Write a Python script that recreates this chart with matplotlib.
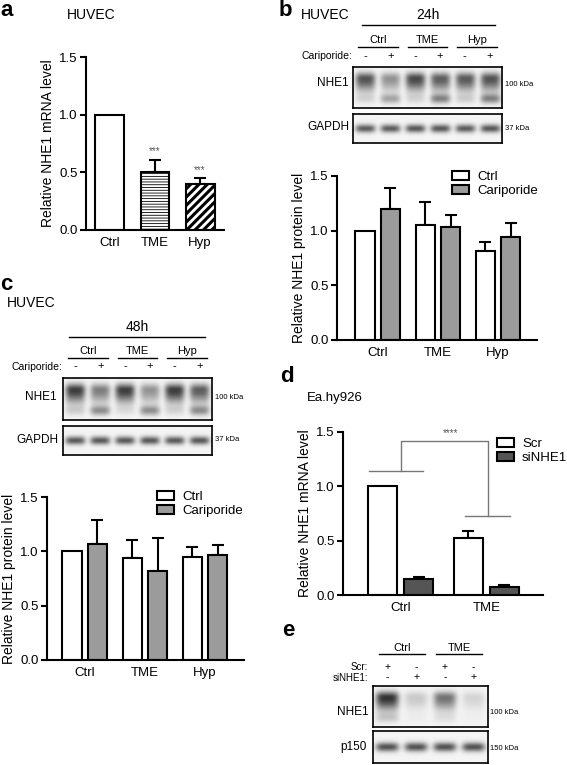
import numpy as np
import matplotlib
matplotlib.use('Agg')
import matplotlib.pyplot as plt
from matplotlib.patches import Patch
from matplotlib.transforms import blended_transform_factory

W, H = 567, 765
plt.rcParams['font.family'] = ['Liberation Sans', 'DejaVu Sans']
plt.rcParams['hatch.linewidth'] = 1.0

# ---- panel a: HUVEC mRNA
a_groups = ['Ctrl', 'TME', 'Hyp']
a_values = [1.0, 0.50, 0.40]
a_errors = [0.0, 0.11, 0.05]
a_stars = ['', '***', '***']

# ---- panel b: HUVEC 24h protein
b_groups = ['Ctrl', 'TME', 'Hyp']
b_ctrl = [1.0, 1.05, 0.81]
b_ctrl_err = [0.0, 0.21, 0.09]
b_cari = [1.20, 1.03, 0.94]
b_cari_err = [0.19, 0.11, 0.13]

# ---- panel c: HUVEC 48h protein
c_groups = ['Ctrl', 'TME', 'Hyp']
c_ctrl = [1.0, 0.94, 0.95]
c_ctrl_err = [0.0, 0.16, 0.09]
c_cari = [1.07, 0.82, 0.97]
c_cari_err = [0.22, 0.30, 0.09]

# ---- panel d: Ea.hy926 mRNA
d_groups = ['Ctrl', 'TME']
d_scr = [1.0, 0.52]
d_scr_err = [0.0, 0.07]
d_si = [0.15, 0.07]
d_si_err = [0.02, 0.02]

# ---- blot band intensities (per lane)
cari_signs = ['-', '+', '-', '+', '-', '+']
b_nhe1_top = [0.75, 0.45, 0.80, 0.70, 0.72, 0.75]
b_nhe1_low = [0.12, 0.35, 0.12, 0.50, 0.15, 0.50]
b_gapdh = [0.70, 0.70, 0.72, 0.72, 0.70, 0.72]
c_nhe1_top = [0.85, 0.55, 0.85, 0.45, 0.85, 0.70]
c_nhe1_low = [0.15, 0.45, 0.08, 0.45, 0.12, 0.45]
c_gapdh = [0.72, 0.72, 0.72, 0.72, 0.72, 0.72]
e_scr = ['+', '-', '+', '-']
e_si = ['-', '+', '-', '+']
e_nhe1_top = [0.90, 0.20, 0.60, 0.15]
e_nhe1_low = [0.18, 0.03, 0.08, 0.02]
e_p150 = [0.75, 0.75, 0.75, 0.75]

WHITE = 'white'
GRAY = '#9b9b9b'
DARK = '#555555'

fig = plt.figure(figsize=(W / 100, H / 100), dpi=100)


def fx(x):
    return x / W


def fy(y):
    return 1 - y / H


def px_axes(x0, y0, x1, y1):
    return fig.add_axes([fx(x0), fy(y1), (x1 - x0) / W, (y1 - y0) / H])


def txt(x, y, s, **kw):
    kw.setdefault('va', 'center')
    fig.text(fx(x), fy(y), s, **kw)


def style_axis(ax, xlim):
    for s in ['top', 'right']:
        ax.spines[s].set_visible(False)
    for s in ['left', 'bottom']:
        ax.spines[s].set_linewidth(1.5)
    ax.set_ylim(0, 1.5)
    ax.set_xlim(*xlim)
    ax.set_yticks([0, 0.5, 1.0, 1.5])
    ax.yaxis.set_major_formatter('{x:.1f}')
    ax.tick_params(axis='y', length=4, width=1.5, labelsize=9.5, pad=2)
    ax.tick_params(axis='x', length=0, labelsize=9.5, pad=5)
    ax.patch.set_alpha(0)


def err(ax, x, vals, errs):
    x = np.asarray(x, float)
    vals = np.asarray(vals)
    errs = np.asarray(errs)
    m = errs > 0
    ax.errorbar(x[m], vals[m], yerr=[np.zeros(m.sum()), errs[m]], fmt='none',
                ecolor='k', elinewidth=1.5, capsize=4, capthick=1.5, zorder=1)


def blot(x0, y0, x1, y1, top, low=None, sharp=False):
    ax = px_axes(x0, y0, x1, y1)
    n = len(top)
    nx, ny = 40 * n, 80
    xs = (np.arange(nx) + 0.5) / 40
    ys = (np.arange(ny) + 0.5) / ny
    img = np.zeros((ny, nx))
    for i in range(n):
        hx = np.exp(-((xs - (i + 0.5)) / 0.40) ** 4)
        if sharp:
            vy = np.exp(-0.5 * ((ys - 0.5) / 0.10) ** 2)
        else:
            d = ys - 0.30
            vy = np.where(d < 0, np.exp(-0.5 * (d / 0.10) ** 2),
                          np.exp(-0.5 * (d / 0.20) ** 2))
        img += top[i] * np.outer(vy, hx)
        if low is not None:
            vl = np.exp(-0.5 * ((ys - 0.78) / 0.08) ** 2)
            img += low[i] * np.outer(vl, hx)
    img = 0.96 - 0.85 * np.clip(img, 0, 1)
    ax.imshow(img, cmap='gray', vmin=0, vmax=1, aspect='auto',
              extent=(0, n, 1, 0), interpolation='bilinear')
    ax.set_xticks([])
    ax.set_yticks([])
    for s in ax.spines.values():
        s.set_linewidth(1.2)
    return ax


def lane_marks(ax, signs, y, fs=8):
    tr = blended_transform_factory(ax.transData, fig.transFigure)
    for i, s in enumerate(signs):
        ax.text(i + 0.5, fy(y), s, transform=tr, ha='center', va='center',
                fontsize=fs, clip_on=False)


def group_labels(ax, names, per, y_text, y_line, fs=8):
    tr = blended_transform_factory(ax.transData, fig.transFigure)
    for g, name in enumerate(names):
        c = g * per + per / 2
        ax.text(c, fy(y_text), name, transform=tr, ha='center', va='center',
                fontsize=fs, clip_on=False)
        ax.plot([g * per + 0.2, g * per + per - 0.2], [fy(y_line)] * 2,
                transform=tr, color='k', lw=1.0, clip_on=False)


def legend(ax, handles, x, y):
    ax.legend(handles=handles, loc='upper left', bbox_to_anchor=(fx(x), fy(y)),
              bbox_transform=fig.transFigure, frameon=False, fontsize=9.5,
              handlelength=1.3, handleheight=0.6, handletextpad=0.6, labelspacing=0.15,
              borderaxespad=0, borderpad=0)


# ================= panel a
txt(0, 11, 'a', fontsize=16, fontweight='bold', ha='left')
txt(67, 15, 'HUVEC', fontsize=10, ha='left')
ax = px_axes(86, 57, 224, 230)
xa = np.arange(len(a_groups))
bars = ax.bar(xa, a_values, width=0.64, color=WHITE, edgecolor='k', linewidth=1.5, zorder=2)
bars[1].set_hatch('------')
bars[2].set_hatch('////')
if hasattr(bars[2], 'set_hatch_linewidth'):
    bars[1].set_hatch_linewidth(0.6)
    bars[2].set_hatch_linewidth(2.2)
err(ax, xa, a_values, a_errors)
for i, s in enumerate(a_stars):
    if s:
        ax.text(xa[i], a_values[i] + a_errors[i] + 0.03, s, ha='center', va='bottom',
                fontsize=7, color='#555555')
ax.set_xticks(xa, a_groups)
style_axis(ax, (-0.53, 2.53))
ax.set_ylabel('Relative NHE1 mRNA level', fontsize=10, labelpad=3)

# ================= panel b
txt(279, 11, 'b', fontsize=16, fontweight='bold', ha='left')
txt(301, 15, 'HUVEC', fontsize=10, ha='left')
bb = blot(353, 67, 502, 108, b_nhe1_top, b_nhe1_low)
blot(353, 114, 502, 143, b_gapdh, sharp=True)
tr = blended_transform_factory(bb.transData, fig.transFigure)
bb.text(3, fy(15), '24h', transform=tr, ha='center', va='center', fontsize=10, clip_on=False)
bb.plot([0.35, 5.7], [fy(25)] * 2, transform=tr, color='k', lw=1.0, clip_on=False)
group_labels(bb, b_groups, 2, 40, 47)
lane_marks(bb, cari_signs, 56)
txt(352, 56, 'Cariporide:', fontsize=7.5, ha='right')
txt(333, 83, 'NHE1', fontsize=8.5, ha='center')
txt(328, 127, 'GAPDH', fontsize=8.5, ha='center')
txt(505, 85, '100 kDa', fontsize=5.5, ha='left')
txt(505, 129, '37 kDa', fontsize=5.5, ha='left')

ax = px_axes(337, 176, 537, 340)
xb = np.arange(len(b_groups))
ax.bar(xb - 0.21, b_ctrl, width=0.325, color=WHITE, edgecolor='k', linewidth=1.5, zorder=2)
ax.bar(xb + 0.21, b_cari, width=0.325, color=GRAY, edgecolor='k', linewidth=1.5, zorder=2)
err(ax, xb - 0.21, b_ctrl, b_ctrl_err)
err(ax, xb + 0.21, b_cari, b_cari_err)
ax.set_xticks(xb, b_groups)
style_axis(ax, (-0.68, 2.65))
ax.set_ylabel('Relative NHE1 protein level', fontsize=10, labelpad=3)
handles = [Patch(facecolor=WHITE, edgecolor='k', linewidth=1.5, label='Ctrl'),
           Patch(facecolor=GRAY, edgecolor='k', linewidth=1.5, label='Cariporide')]
legend(ax, handles, 452, 171)

# ================= panel c
txt(0, 284, 'c', fontsize=16, fontweight='bold', ha='left')
txt(7, 303, 'HUVEC', fontsize=10, ha='left')
cb = blot(63, 378, 212, 420, c_nhe1_top, c_nhe1_low)
blot(63, 426, 212, 455, c_gapdh, sharp=True)
tr = blended_transform_factory(cb.transData, fig.transFigure)
cb.text(3, fy(327), '48h', transform=tr, ha='center', va='center', fontsize=10, clip_on=False)
cb.plot([0.25, 5.7], [fy(337)] * 2, transform=tr, color='k', lw=1.0, clip_on=False)
group_labels(cb, c_groups, 2, 351, 358)
lane_marks(cb, cari_signs, 366)
txt(62, 367, 'Cariporide:', fontsize=7.5, ha='right')
txt(41, 397, 'NHE1', fontsize=8.5, ha='center')
txt(37, 440, 'GAPDH', fontsize=8.5, ha='center')
txt(215, 397, '100 kDa', fontsize=5.5, ha='left')
txt(215, 440, '37 kDa', fontsize=5.5, ha='left')

ax = px_axes(47, 497, 244, 660)
xc = np.arange(len(c_groups))
ax.bar(xc - 0.21, c_ctrl, width=0.325, color=WHITE, edgecolor='k', linewidth=1.5, zorder=2)
ax.bar(xc + 0.21, c_cari, width=0.325, color=GRAY, edgecolor='k', linewidth=1.5, zorder=2)
err(ax, xc - 0.21, c_ctrl, c_ctrl_err)
err(ax, xc + 0.21, c_cari, c_cari_err)
ax.set_xticks(xc, c_groups)
style_axis(ax, (-0.63, 2.65))
ax.set_ylabel('Relative NHE1 protein level', fontsize=10, labelpad=3)
legend(ax, handles, 157, 491)

# ================= panel d
txt(280, 377, 'd', fontsize=16, fontweight='bold', ha='left')
txt(307, 398, 'Ea.hy926', fontsize=9.5, ha='left')
ax = px_axes(343, 432, 543, 595)
xd = np.arange(len(d_groups))
ax.bar(xd - 0.21, d_scr, width=0.34, color=WHITE, edgecolor='k', linewidth=1.5, zorder=2)
ax.bar(xd + 0.21, d_si, width=0.34, color=DARK, edgecolor='k', linewidth=1.5, zorder=2)
err(ax, xd - 0.21, d_scr, d_scr_err)
err(ax, xd + 0.21, d_si, d_si_err)
ax.set_xticks(xd, d_groups)
style_axis(ax, (-0.67, 1.66))
ax.set_ylabel('Relative NHE1 mRNA level', fontsize=10, labelpad=3)
# significance bracket between groups
lvl0, lvl1, top = 1.14, 0.73, 1.42
kw = dict(color='#777777', lw=1.0, clip_on=False)
ax.plot([xd[0] - 0.37, xd[0] + 0.26], [lvl0, lvl0], **kw)
ax.plot([xd[0], xd[0], xd[1] + 0.02, xd[1] + 0.02], [lvl0, top, top, lvl1], **kw)
ax.plot([xd[1] - 0.25, xd[1] + 0.28], [lvl1, lvl1], **kw)
ax.text(0.58, top + 0.02, '****', ha='center', va='bottom', fontsize=7, color='#555555')
handles_d = [Patch(facecolor=WHITE, edgecolor='k', linewidth=1.5, label='Scr'),
             Patch(facecolor=DARK, edgecolor='k', linewidth=1.5, label='siNHE1')]
legend(ax, handles_d, 497, 438)

# ================= panel e
txt(282, 630, 'e', fontsize=16, fontweight='bold', ha='left')
eb = blot(373, 686, 488, 727, e_nhe1_top, e_nhe1_low)
blot(373, 731, 488, 763, e_p150, sharp=True)
group_labels(eb, d_groups, 2, 648, 654)
lane_marks(eb, e_scr, 667, fs=7.5)
lane_marks(eb, e_si, 677, fs=7.5)
txt(368, 667, 'Scr:', fontsize=7, ha='right')
txt(368, 678, 'siNHE1:', fontsize=7, ha='right')
txt(353, 712, 'NHE1', fontsize=8.5, ha='center')
txt(353, 747, 'p150', fontsize=8.5, ha='center')
txt(490, 712, '100 kDa', fontsize=5.5, ha='left')
txt(490, 748, '150 kDa', fontsize=5.5, ha='left')

fig.savefig('out.png', dpi=100)
